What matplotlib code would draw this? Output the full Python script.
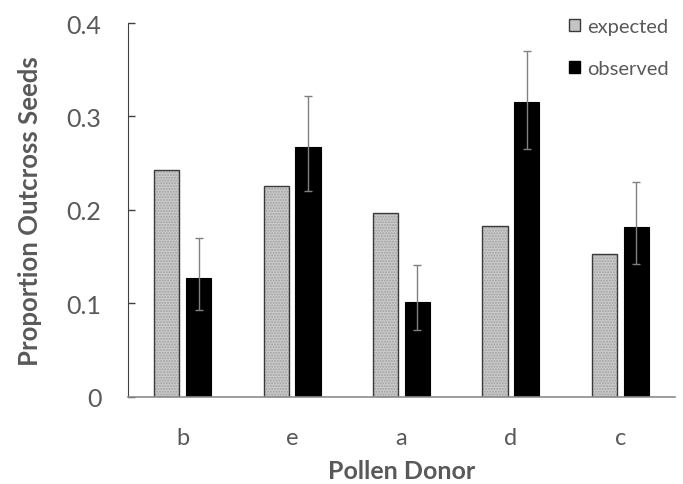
import numpy as np
import matplotlib
matplotlib.use("Agg")
import matplotlib.pyplot as plt
from matplotlib.patches import Patch

# data
donors = ["b", "e", "a", "d", "c"]
expected = [0.243, 0.225, 0.197, 0.183, 0.153]
observed = [0.127, 0.267, 0.101, 0.315, 0.182]
obs_upper = [0.170, 0.322, 0.141, 0.370, 0.230]
obs_lower = [0.093, 0.220, 0.071, 0.265, 0.142]

plt.rcParams["font.family"] = ["Lato", "DejaVu Sans"]
grey_txt = "#595959"

fig = plt.figure(figsize=(6.83, 4.85), dpi=100)
ax = fig.add_axes([0.1874, 0.180, 0.8009, 0.7705])

x = np.arange(len(donors))
w = 0.23
off = 0.145

# expected bars: dotted light grey fill with a dark outline
ax.bar(x - off, expected, w, color="#cbcbcb", hatch="......", edgecolor="#a0a0a0", linewidth=0)
ax.bar(x - off, expected, w, color="none", edgecolor="#3a3a3a", linewidth=1.0)

# observed bars with asymmetric error bars
err = [np.array(observed) - np.array(obs_lower), np.array(obs_upper) - np.array(observed)]
ax.bar(x + off, observed, w, color="black", edgecolor="black", linewidth=0.8)
ax.errorbar(x + off, observed, yerr=err, fmt="none", ecolor="#808080",
            elinewidth=1.0, capsize=2.8, capthick=1.0)

ax.set_xlim(-0.5, 4.5)
ax.set_ylim(0, 0.4)
ax.set_yticks([0, 0.1, 0.2, 0.3, 0.4])
ax.set_yticklabels(["0", "0.1", "0.2", "0.3", "0.4"])
ax.set_xticks(x)
ax.set_xticklabels(donors)

for s in ["top", "right"]:
    ax.spines[s].set_visible(False)
ax.spines["left"].set_color("#404040")
ax.spines["bottom"].set_color("#8c8c8c")
ax.spines["bottom"].set_linewidth(1.2)

ax.tick_params(axis="y", direction="in", length=5, width=1, color="#404040",
               labelsize=18, labelcolor=grey_txt, pad=19)
ax.tick_params(axis="x", length=0, labelsize=17, labelcolor=grey_txt, pad=22)

ax.set_ylabel("Proportion Outcross Seeds", fontsize=18.5, fontweight="bold",
              color=grey_txt, labelpad=18)
ax.set_xlabel("Pollen Donor", fontsize=18, fontweight="bold", color=grey_txt, labelpad=8)

handles = [Patch(facecolor="#c4c4c4", edgecolor="#3a3a3a", linewidth=1.0),
           Patch(facecolor="black", edgecolor="black")]
leg = fig.legend(handles, ["expected", "observed"], loc="upper right",
                 bbox_to_anchor=(1.0, 0.99), frameon=False, fontsize=14.5,
                 handlelength=0.55, handleheight=0.55, handletextpad=0.35,
                 labelspacing=1.25, borderaxespad=0.3)
for t in leg.get_texts():
    t.set_color(grey_txt)

fig.savefig("out.png", dpi=100)
